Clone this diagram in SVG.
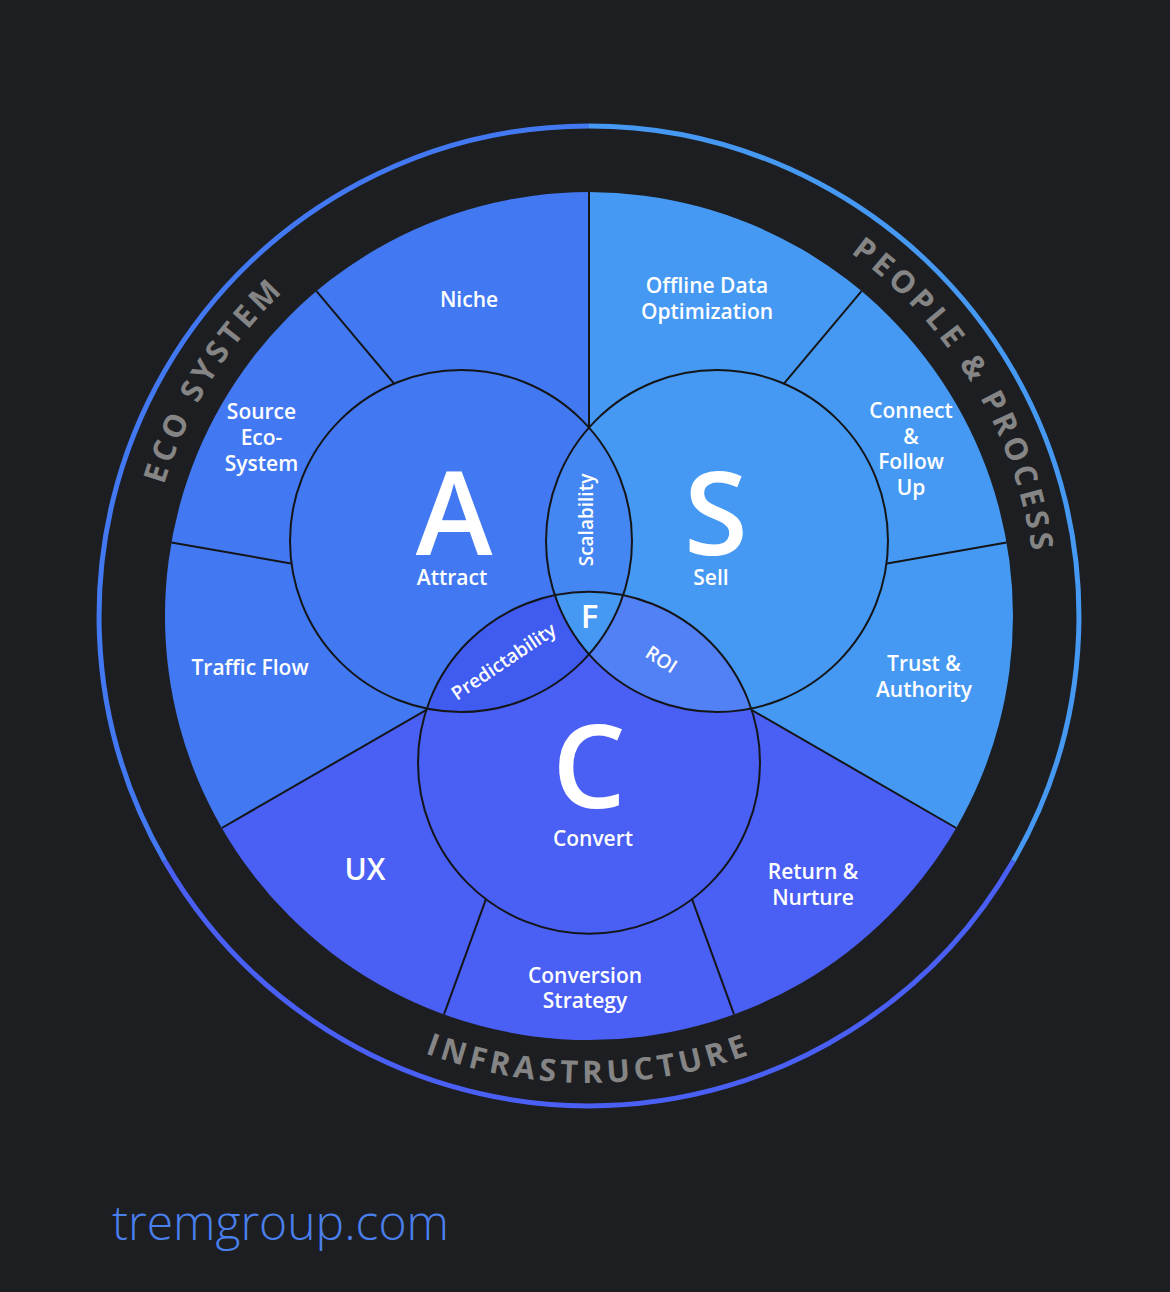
<svg xmlns="http://www.w3.org/2000/svg" width="1170" height="1292" viewBox="0 0 1170 1292">
<defs>
<style>
.lbl{font-family:"Open Sans","Liberation Sans",sans-serif;font-size:21px;font-weight:600;fill:#ffffff;text-anchor:middle}
.big{font-family:"Open Sans","Liberation Sans",sans-serif;font-size:116px;font-weight:600;fill:#ffffff;text-anchor:middle}
.sm{font-family:"Open Sans","Liberation Sans",sans-serif;font-size:19px;font-weight:600;fill:#ffffff;text-anchor:middle}
.ring{font-family:"Open Sans","Liberation Sans",sans-serif;font-size:31px;font-weight:700;fill:#858585;letter-spacing:4.5px}
.div{stroke:#141518;stroke-width:2;fill:none}
.outline{fill:none;stroke:#141518;stroke-width:2}
.arc{fill:none;stroke-width:5}
</style>
<path id="pEco" d="M171.8 767.9 A446 446 0 0 1 542.6 171.4"/>
<path id="pPeople" d="M628 170.7 A446 446 0 0 1 1000.5 790.6"/>
<path id="pInfra" d="M206.5 883.9 A467 467 0 0 0 971.5 883.9"/>
</defs>
<rect width="1170" height="1292" fill="#1d1e22"/>

<g id="outer-ring">
<path class="arc" stroke="#4279f2" d="M589 126 A490 490 0 0 0 164.7 861"/>
<path class="arc" stroke="#4699f3" d="M589 126 A490 490 0 0 1 1013.3 861"/>
<path class="arc" stroke="#4a5ff4" d="M164.7 861 A490 490 0 0 0 1013.3 861"/>
</g>

<g id="sectors">
<path fill="#4279f2" d="M589 616 L589 192 A424 424 0 0 0 221.8 828 Z"/>
<path fill="#4699f3" d="M589 616 L589 192 A424 424 0 0 1 956.2 828 Z"/>
<path fill="#4a5ff4" d="M589 616 L221.8 828 A424 424 0 0 0 956.2 828 Z"/>
</g>

<g id="dividers">
<line class="div" x1="589" y1="616" x2="589" y2="192"/>
<line class="div" x1="589" y1="616" x2="316.5" y2="291.2"/>
<line class="div" x1="589" y1="616" x2="171.4" y2="542.4"/>
<line class="div" x1="589" y1="616" x2="221.8" y2="828"/>
<line class="div" x1="589" y1="616" x2="444" y2="1014.4"/>
<line class="div" x1="589" y1="616" x2="734" y2="1014.4"/>
<line class="div" x1="589" y1="616" x2="956.2" y2="828"/>
<line class="div" x1="589" y1="616" x2="1006.6" y2="542.4"/>
<line class="div" x1="589" y1="616" x2="861.5" y2="291.2"/>
</g>

<g id="circles">
<circle id="circle-attract" cx="461" cy="541" r="171" fill="#4279f2"/>
<circle id="circle-sell" cx="717" cy="541" r="171" fill="#4699f3"/>
<circle id="circle-convert" cx="589" cy="762.7" r="171" fill="#4a5ff4"/>
<path id="lens-scalability" fill="#4487f2" d="M589 427.6 A171 171 0 0 1 589 654.4 A171 171 0 0 1 589 427.6 Z"/>
<path id="lens-predictability" fill="#405cf0" d="M426.8 708.55 A171 171 0 0 0 623.2 595.15 A171 171 0 0 0 426.8 708.55 Z"/>
<path id="lens-roi" fill="#5181f5" d="M554.8 595.15 A171 171 0 0 0 751.2 708.55 A171 171 0 0 0 554.8 595.15 Z"/>
<path id="center-f" fill="#4699f3" d="M554.8 595.15 A171 171 0 0 1 623.2 595.15 A171 171 0 0 1 589 654.4 A171 171 0 0 1 554.8 595.15 Z"/>
<circle class="outline" cx="461" cy="541" r="171"/>
<circle class="outline" cx="717" cy="541" r="171"/>
<circle class="outline" cx="589" cy="762.7" r="171"/>
</g>

<g id="node-attract">
<text class="big" x="454" y="555">A</text>
<text class="lbl" x="452" y="585">Attract</text>
</g>
<g id="node-sell">
<text class="big" x="716" y="555">S</text>
<text class="lbl" x="711" y="585">Sell</text>
</g>
<g id="node-convert">
<text class="big" x="589" y="808">C</text>
<text class="lbl" x="593" y="846">Convert</text>
</g>
<g id="node-f"><text class="lbl" x="589.5" y="628" style="font-size:33px">F</text></g>
<g id="node-scalability"><text class="sm" transform="translate(587 520) rotate(-90)" y="6">Scalability</text></g>
<g id="node-predictability"><text class="sm" transform="translate(504 662) rotate(-34)" y="6">Predictability</text></g>
<g id="node-roi"><text class="sm" transform="translate(661 660) rotate(33)" y="6">ROI</text></g>

<g id="node-niche"><text class="lbl" x="469" y="307">Niche</text></g>
<g id="node-source"><text class="lbl" x="261.5" y="419">Source</text><text class="lbl" x="261.5" y="445">Eco-</text><text class="lbl" x="261.5" y="471">System</text></g>
<g id="node-traffic"><text class="lbl" x="250" y="675">Traffic Flow</text></g>
<g id="node-offline"><text class="lbl" x="707" y="293">Offline Data</text><text class="lbl" x="707" y="319">Optimization</text></g>
<g id="node-connect"><text class="lbl" x="911" y="418">Connect</text><text class="lbl" x="911" y="444">&amp;</text><text class="lbl" x="911" y="469">Follow</text><text class="lbl" x="911" y="495">Up</text></g>
<g id="node-trust"><text class="lbl" x="924" y="671">Trust &amp;</text><text class="lbl" x="924" y="697">Authority</text></g>
<g id="node-ux"><text class="lbl" x="365" y="880" style="font-size:30px">UX</text></g>
<g id="node-conversion"><text class="lbl" x="585" y="983">Conversion</text><text class="lbl" x="585" y="1008">Strategy</text></g>
<g id="node-return"><text class="lbl" x="813" y="879">Return &amp;</text><text class="lbl" x="813" y="905">Nurture</text></g>

<g id="ring-labels">
<text class="ring"><textPath href="#pEco" startOffset="50%" text-anchor="middle">ECO SYSTEM</textPath></text>
<text class="ring"><textPath href="#pPeople" startOffset="50%" text-anchor="middle">PEOPLE &amp; PROCESS</textPath></text>
<text class="ring"><textPath href="#pInfra" startOffset="50%" text-anchor="middle">INFRASTRUCTURE</textPath></text>
</g>

<g id="footer"><text x="112" y="1240" font-family="Open Sans, Liberation Sans, sans-serif" font-size="48" font-weight="300" fill="#4a80ee">tremgroup.com</text></g>
</svg>
